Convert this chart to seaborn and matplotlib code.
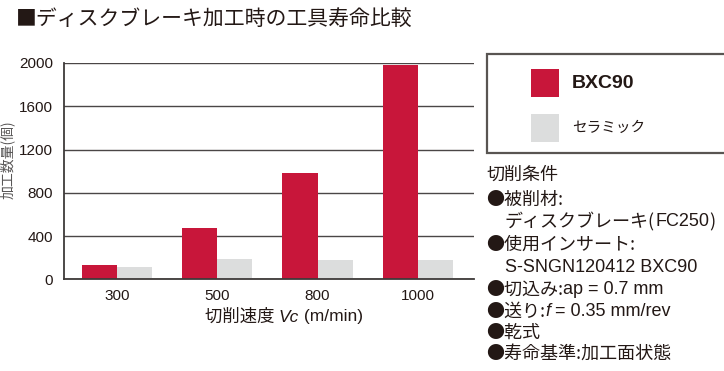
import matplotlib
matplotlib.use("Agg")
import matplotlib.pyplot as plt
from matplotlib.patches import Rectangle
import seaborn as sns
import pandas as pd

# ---- data ----
speeds = ["300", "500", "800", "1000"]
materials = ["BXC90", "セラミック"]
bxc90_life = [135, 476, 980, 1980]
ceramic_life = [110, 185, 182, 182]
y_ticks = [0, 400, 800, 1200, 1600, 2000]

title = "■ディスクブレーキ加工時の工具寿命比較"
ylabel = "加工数量(個)"

RED = "#C8163A"
GRAY = "#DCDDDD"
TXT = "#231815"
GRID = "#4a4646"

W, H = 724, 371
sns.set_theme(style="white")
LAT = ["Liberation Sans", "Noto Sans CJK JP", "DejaVu Sans"]
JP = ["Noto Sans CJK JP", "DejaVu Sans"]
plt.rcParams["font.family"] = LAT

fig = plt.figure(figsize=(W / 100, H / 100), dpi=100)
fig.patch.set_facecolor("white")


def fx(px):
    return px / W


def fy(py):
    return 1 - py / H


ax = fig.add_axes([fx(64.3), fy(279.3), (474 - 64.3) / W, (279.3 - 63) / H])

df = pd.DataFrame({
    "speed": speeds * 2,
    "life": bxc90_life + ceramic_life,
    "material": [materials[0]] * 4 + [materials[1]] * 4,
})
sns.barplot(data=df, x="speed", y="life", hue="material", order=speeds,
            hue_order=materials, palette=[RED, GRAY], saturation=1,
            width=0.7, gap=0, errorbar=None, legend=False, ax=ax,
            linewidth=0)

ax.set_ylim(0, 2000)
ax.set_yticks(y_ticks)
ax.set_xlim(-0.525, 3.56)
ax.yaxis.grid(True, color=GRID, linewidth=1.0)
ax.xaxis.grid(False)
ax.set_axisbelow(True)
for s in ["top", "right"]:
    ax.spines[s].set_visible(False)
for s in ["left", "bottom"]:
    ax.spines[s].set_color("#3e3a39")
    ax.spines[s].set_linewidth(1.3)
ax.tick_params(axis="both", length=0, labelsize=11, labelcolor=TXT)
ax.tick_params(axis="x", pad=7)
ax.tick_params(axis="y", pad=8)
ax.set_xlabel("")
ax.set_ylabel("")
ax.set_facecolor("white")

renderer = fig.canvas.get_renderer()


def seg_line(x_px, y_px, segs, size, center=False):
    texts = []
    total = 0
    for s, fam, style in segs:
        t = fig.text(0, fy(y_px), s, fontsize=size, family=fam, style=style,
                     color=TXT, va="center", ha="left")
        w = t.get_window_extent(renderer).width
        texts.append((t, w))
        total += w
    x = x_px - total / 2 if center else x_px
    for t, w in texts:
        t.set_x(fx(x))
        x += w


# title
fig.text(fx(16), fy(19), title, fontsize=15, family=JP, color=TXT,
         va="center", ha="left")

# y label
fig.text(fx(7), fy(160), ylabel, fontsize=10, family=JP, color="#595757",
         rotation=90, va="center", ha="center")

# x label
seg_line(284, 317, [("切削速度 ", JP, "normal"), ("Vc", LAT, "italic"),
                    (" (m/min)", LAT, "normal")], 12.5, center=True)

# legend box
fig.add_artist(Rectangle((fx(487), fy(153)), fx(260), (153 - 54) / H,
                         transform=fig.transFigure, facecolor="white",
                         edgecolor="#595552", linewidth=1.6))
fig.add_artist(Rectangle((fx(531), fy(97)), fx(28), 28 / H,
                         transform=fig.transFigure, facecolor=RED,
                         edgecolor="none"))
fig.add_artist(Rectangle((fx(531), fy(142)), fx(28), 28 / H,
                         transform=fig.transFigure, facecolor=GRAY,
                         edgecolor="none"))
fig.text(fx(572), fy(83), materials[0], fontsize=14, family=LAT,
         weight="bold", color=TXT, va="center", ha="left")
fig.text(fx(572), fy(128), materials[1], fontsize=10.5, family=JP,
         color=TXT, va="center", ha="left")

# cutting conditions
CS = 13
seg_line(486, 175, [("切削条件", JP, "normal")], CS)
seg_line(486, 200, [("●被削材:", JP, "normal")], CS)
seg_line(505, 222, [("ディスクブレーキ(", JP, "normal"), ("FC250", LAT, "normal"),
                    (")", JP, "normal")], CS)
seg_line(486, 245, [("●使用インサート:", JP, "normal")], CS)
seg_line(505, 267, [("S-SNGN120412 BXC90", LAT, "normal")], CS)
seg_line(486, 290, [("●切込み:", JP, "normal"), ("ap = 0.7 mm", LAT, "normal")], CS)
seg_line(486, 312, [("●送り:", JP, "normal"), ("f", LAT, "italic"),
                    (" = 0.35 mm/rev", LAT, "normal")], CS)
seg_line(486, 333, [("●乾式", JP, "normal")], CS)
seg_line(486, 354, [("●寿命基準:加工面状態", JP, "normal")], CS)

fig.savefig("out.png", dpi=100, facecolor="white")
